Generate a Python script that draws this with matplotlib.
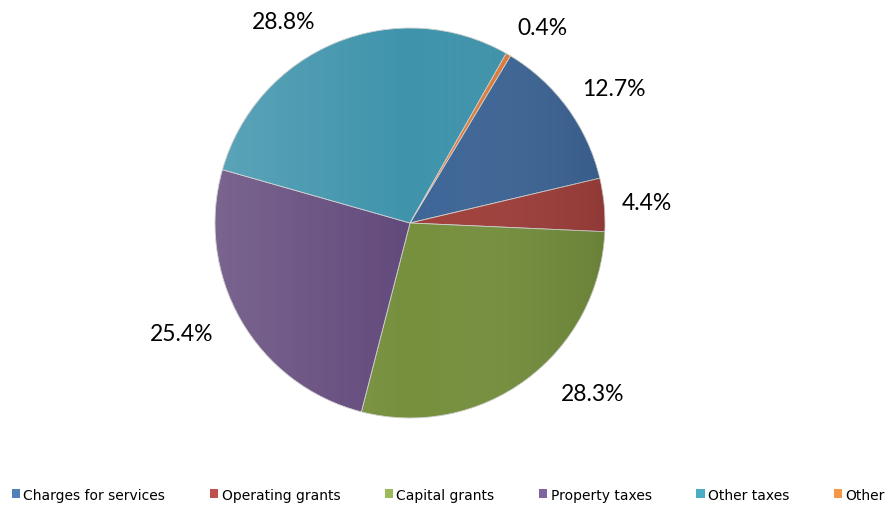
import numpy as np
import matplotlib
matplotlib.use("Agg")
import matplotlib.pyplot as plt
from matplotlib.patches import Patch

# data
categories = ["Charges for services", "Operating grants", "Capital grants",
              "Property taxes", "Other taxes", "Other"]
shares = [12.7, 4.4, 28.3, 25.4, 28.8, 0.4]
labels = ["12.7%", "4.4%", "28.3%", "25.4%", "28.8%", "0.4%"]

wedge_colors = ["#3E6697", "#A0403C", "#76903E", "#634A7C", "#3F94AC", "#E07B39"]
legend_colors = ["#4F81BD", "#C0504D", "#9BBB59", "#8064A2", "#4BACC6", "#F79646"]

# label placement tweaks (degrees clockwise from wedge middle, radius factor)
lab_shift = [2.7, 0.3, -10.4, 4.1, -9.7, 3.9]
lab_dist = [1.25, 1.22, 1.28, 1.30, 1.22, 1.21]

W, H = 890, 510
fig = plt.figure(figsize=(W / 100, H / 100), dpi=100)
ax = fig.add_axes([0, 0, 1, 1])

cx, cy, r = 410, H - 224, 195
wedges, _ = ax.pie(
    shares, colors=wedge_colors, startangle=59, counterclock=False,
    center=(cx, cy), radius=r,
    wedgeprops=dict(linewidth=0.6, edgecolor="#d0d0d0"))

for w, lab, sh, d in zip(wedges, labels, lab_shift, lab_dist):
    mid = np.deg2rad((w.theta1 + w.theta2) / 2 - sh)
    ax.text(cx + d * r * np.cos(mid), cy + d * r * np.sin(mid), lab,
            ha="center", va="center", fontsize=16.5, family="Lato")

# soft left-to-right shading like the original gradient fill
grad = np.linspace(0, 1, 256).reshape(1, -1)
cmap = matplotlib.colors.LinearSegmentedColormap.from_list(
    "shade", [(1, 1, 1, 0.15), (1, 1, 1, 0.0), (0, 0, 0, 0.10)])
im = ax.imshow(grad, cmap=cmap, extent=(cx - r, cx + r, cy - r, cy + r),
               aspect="auto", zorder=2, interpolation="bilinear")
circle = plt.Circle((cx, cy), r, transform=ax.transData)
im.set_clip_path(circle)

ax.set_xlim(0, W)
ax.set_ylim(0, H)
ax.set_aspect("equal")
ax.axis("off")

handles = [Patch(facecolor=c, edgecolor="none") for c in legend_colors]
ax.legend(handles, categories, loc="center left", bbox_to_anchor=(-0.001, 0.028),
          ncol=6, frameon=False, handlelength=0.6, handleheight=0.6,
          handletextpad=0.25, columnspacing=3.2,
          prop=dict(family="Liberation Sans Narrow", size=10))

fig.savefig("out.png", dpi=100, facecolor="white")
